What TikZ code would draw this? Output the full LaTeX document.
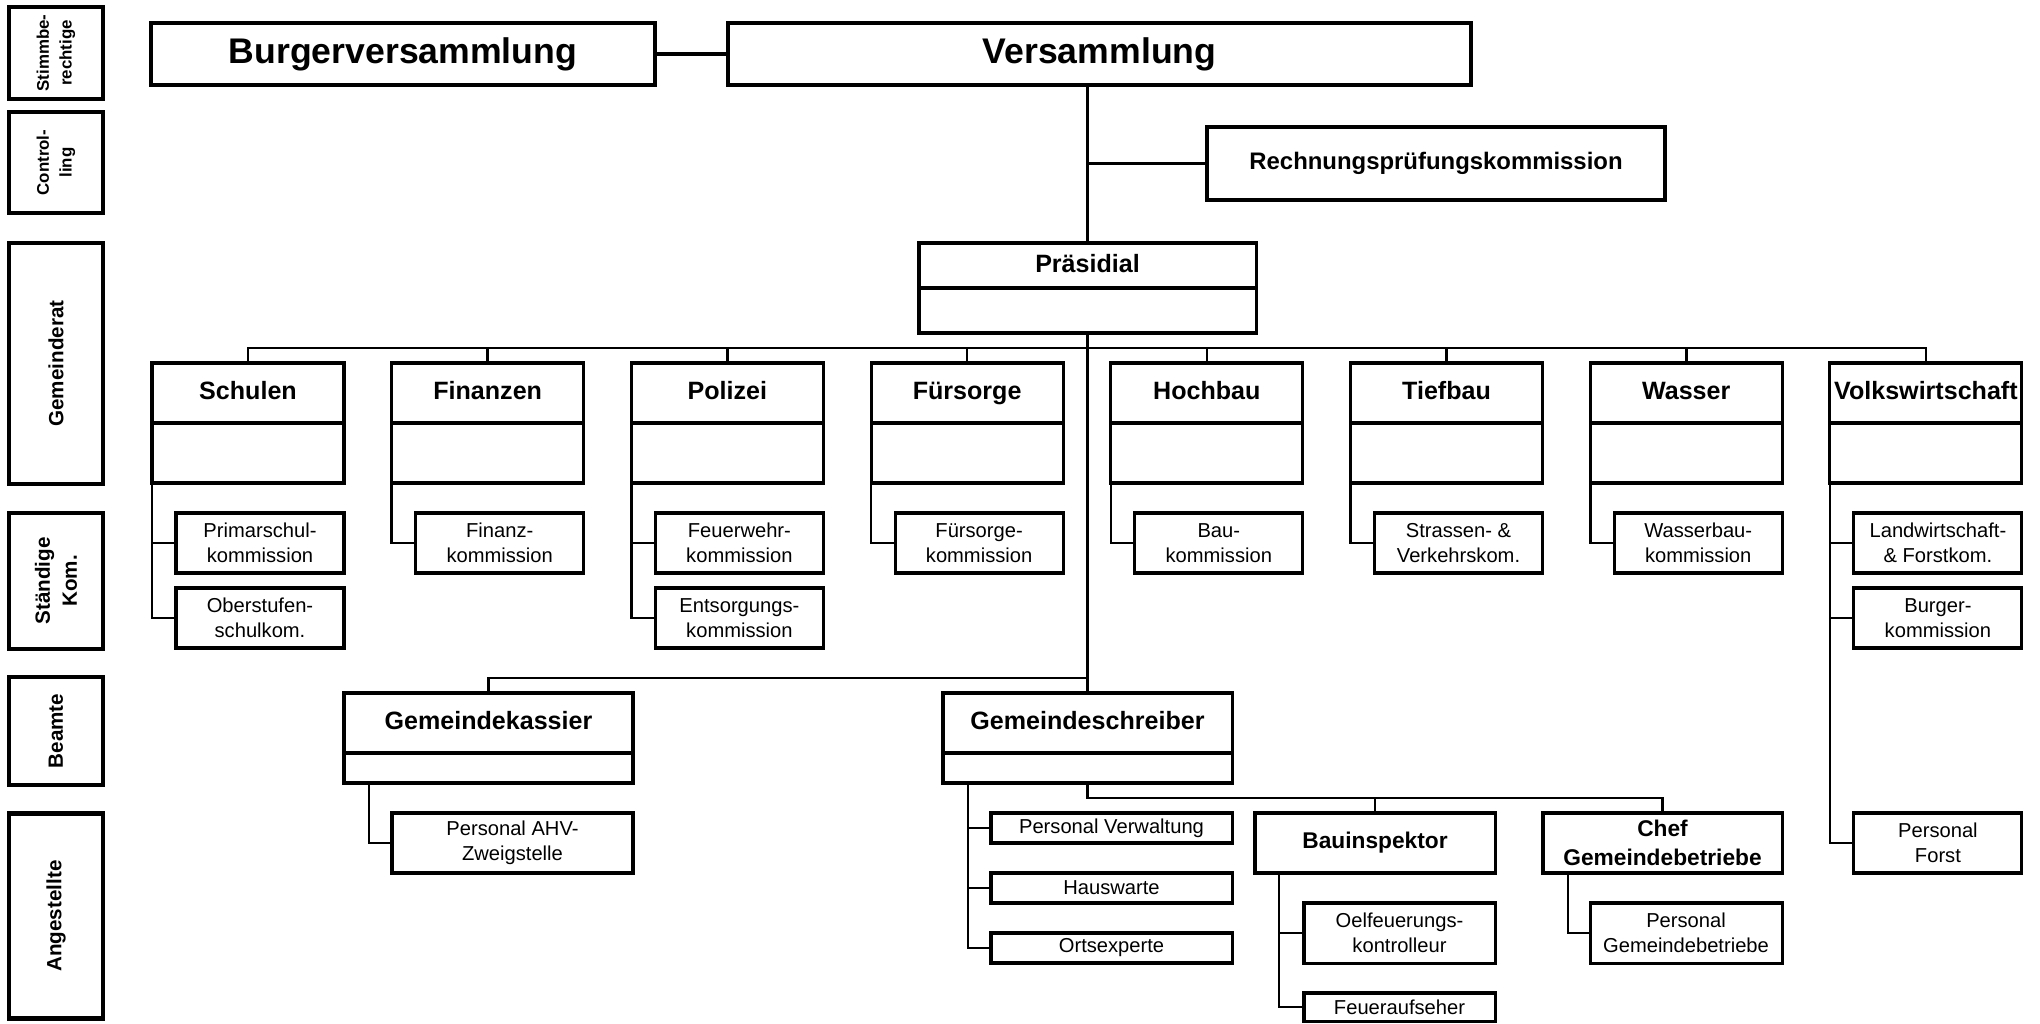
\documentclass[tikz,border=0pt]{standalone}
\usepackage{fontspec}
\setmainfont{Liberation Sans}
\usetikzlibrary{positioning}

\newcommand{\fTop}{\fontsize{15.2}{18}\selectfont\bfseries}
\newcommand{\fRpk}{\fontsize{10.2}{12}\selectfont\bfseries}
\newcommand{\fDept}{\fontsize{10.7}{12.8}\selectfont\bfseries}
\newcommand{\fStaff}{\fontsize{9.7}{12.5}\selectfont\bfseries}
\newcommand{\fSub}{\fontsize{8.6}{10.7}\selectfont}
\newcommand{\fSide}{\fontsize{8.8}{11.5}\selectfont\bfseries}
\newcommand{\fSideSmall}{\fontsize{7.2}{9.7}\selectfont\bfseries}

\begin{document}
\begin{tikzpicture}[x = 0.015cm, y = -0.015cm,
	sidebox/.style = {draw, line width = 1.9pt, rotate = 90, minimum height = 1.41cm, inner sep = 0pt, align = center, font = \fSide},
	topbox/.style = {draw, line width = 1.8pt, outer sep = 0pt, minimum height = 0.93cm, inner sep = 0pt, font = \fTop},
	plainbox/.style = {draw, line width = 1.3pt, outer sep = 0pt, minimum width = 2.88cm, minimum height = 0.9cm, inner sep = 0pt},
	dept/.style = {plainbox, text height = 1.5ex, text depth = 0.4ex, font = \fDept},
	deptlow/.style = {plainbox},
	subbox/.style = {plainbox, minimum width = 2.52cm, align = center, font = \fSub},
	link/.style = {line width = 1.1pt}]

	\useasboundingbox (0, 0) rectangle (2040, 1023);

	% Side labels

	\node [sidebox, minimum width = 1.38cm, font = \fSideSmall] (stimm) at (56, 53) {Stimmbe-\\rechtige};
	\node [sidebox, minimum width = 1.515cm, font = \fSideSmall] (contr) at (56, 162.5) {Control-\\ling};
	\node [sidebox, minimum width = 3.615cm] (gemrat) at (56, 363.5) {Gemeinderat};
	\node [sidebox, minimum width = 2.04cm] (staend) at (56, 581) {Ständige\\Kom.};
	\node [sidebox, minimum width = 1.62cm] (beamte) at (56, 731) {Beamte};
	\node [sidebox, minimum width = 3.075cm] (angest) at (56, 916) {Angestellte};

	% Assemblies

	\node [topbox, minimum width = 7.56cm] (burger) at (403, 54) {Burgerversammlung};
	\node [topbox, minimum width = 11.145cm] (versamml) at (1099.5, 54) {Versammlung};
	\node [topbox, minimum width = 6.87cm, minimum height = 1.095cm, font = \fRpk] (rpk) at (1436, 163.5) {Rechnungsprüfungskommission};

	\draw [line width = 1.7pt] (burger) -- (versamml);

	% Praesidial

	\node [dept, minimum width = 5.055cm, minimum height = 0.675cm] (praes) at (1087.5, 265.5) {Präsidial};
	\node [deptlow, minimum width = 5.055cm, minimum height = 0.675cm, below = 0pt of praes] (praes-b) {};

	\draw [link] (praes.north |- versamml.south) -- (praes.north);
	\draw [link] (rpk.west) -- (rpk.west -| praes.north);

	% Departments

	\foreach \name/\title [count = \i from 0] in {schulen/Schulen, finanzen/Finanzen, polizei/Polizei, fuersorge/Fürsorge, hochbau/Hochbau, tiefbau/Tiefbau, wasser/Wasser, volk/Volkswirtschaft}
	{
		\node [dept] (\name) at (248 + 239.7*\i, 393) {\title};
		\node [deptlow, below = 0pt of \name] (\name-b) {};
	}

	\draw [link] (schulen.north) -- ++(0, -15) -| (volk.north);
	\foreach \name in {finanzen, polizei, fuersorge, hochbau, tiefbau, wasser}
		\draw [link] (\name.north) -- ++(0, -15);

	% Standing commissions

	\node [subbox] (prim) at (260, 543) {Primarschul-\\kommission};
	\node [subbox] (oberst) at (260, 618) {Oberstufen-\\schulkom.};
	\node [subbox] (finkom) at (499.7, 543) {Finanz-\\kommission};
	\node [subbox] (feuerw) at (739.4, 543) {Feuerwehr-\\kommission};
	\node [subbox] (entsorg) at (739.4, 618) {Entsorgungs-\\kommission};
	\node [subbox] (fuerskom) at (979.1, 543) {Fürsorge-\\kommission};
	\node [subbox] (baukom) at (1218.8, 543) {Bau-\\kommission};
	\node [subbox] (strassen) at (1458.5, 543) {Strassen- \&\\Verkehrskom.};
	\node [subbox] (wasserbau) at (1698.2, 543) {Wasserbau-\\kommission};
	\node [subbox] (landw) at (1937.9, 543) {Landwirtschaft-\\\& Forstkom.};
	\node [subbox] (burgerkom) at (1937.9, 618) {Burger-\\kommission};
	\node [subbox] (persforst) at (1937.9, 843) {Personal\\Forst};

	\draw [link] (schulen-b.south west) |- (oberst.west);
	\draw [link] (prim.west) -- ++(-24, 0);
	\draw [link] (finanzen-b.south west) |- (finkom.west);
	\draw [link] (polizei-b.south west) |- (entsorg.west);
	\draw [link] (feuerw.west) -- ++(-24, 0);
	\draw [link] (fuersorge-b.south west) |- (fuerskom.west);
	\draw [link] (hochbau-b.south west) |- (baukom.west);
	\draw [link] (tiefbau-b.south west) |- (strassen.west);
	\draw [link] (wasser-b.south west) |- (wasserbau.west);
	\draw [link] (volk-b.south west) |- (persforst.west);
	\draw [link] (landw.west) -- ++(-24, 0);
	\draw [link] (burgerkom.west) -- ++(-24, 0);

	% Officials

	\node [dept, minimum width = 4.335cm] (kassier) at (488.5, 723) {Gemeindekassier};
	\node [deptlow, minimum width = 4.335cm, minimum height = 0.45cm, below = 0pt of kassier] (kassier-b) {};
	\node [dept, minimum width = 4.335cm] (schreiber) at (1087.5, 723) {Gemeindeschreiber};
	\node [deptlow, minimum width = 4.335cm, minimum height = 0.45cm, below = 0pt of schreiber] (schreiber-b) {};

	\draw [link] (praes-b.south) -- (schreiber.north);
	\draw [link] (kassier.north) -- ++(0, -15) -| (schreiber.north);

	% Employees

	\node [subbox, minimum width = 3.615cm] (ahv) at (512.5, 843) {Personal AHV-\\Zweigstelle};
	\node [subbox, minimum width = 3.615cm, minimum height = 0.45cm] (persverw) at (1111.5, 828) {Personal Verwaltung};
	\node [subbox, minimum width = 3.615cm, minimum height = 0.45cm] (hauswart) at (1111.5, 888) {Hauswarte};
	\node [subbox, minimum width = 3.615cm, minimum height = 0.45cm] (ortsexp) at (1111.5, 948) {Ortsexperte};
	\node [plainbox, minimum width = 3.6cm, font = \fStaff] (bauinsp) at (1375, 843) {Bauinspektor};
	\node [plainbox, minimum width = 3.585cm, font = \fStaff, align = center] (chef) at (1662.5, 843) {Chef\\Gemeindebetriebe};
	\node [subbox, minimum width = 2.865cm] (oelf) at (1399.5, 933) {Oelfeuerungs-\\kontrolleur};
	\node [subbox, minimum width = 2.865cm, minimum height = 0.42cm] (feuerauf) at (1399.5, 1007) {Feueraufseher};
	\node [subbox, minimum width = 2.88cm] (persgb) at (1686, 933) {Personal\\Gemeindebetriebe};

	\draw [link] ([xshift = 0.375cm] kassier-b.south west) |- (ahv.west);
	\draw [link] ([xshift = 0.375cm] schreiber-b.south west) |- (ortsexp.west);
	\draw [link] (persverw.west) -- ++(-23, 0);
	\draw [link] (hauswart.west) -- ++(-23, 0);
	\draw [link] (schreiber-b.south) -- ++(0, 15) -| (chef.north);
	\draw [link] (bauinsp.north) -- ++(0, -15);
	\draw [link] ([xshift = 0.36cm] bauinsp.south west) |- (feuerauf.west);
	\draw [link] (oelf.west) -- ++(-25, 0);
	\draw [link] ([xshift = 0.375cm] chef.south west) |- (persgb.west);

\end{tikzpicture}
\end{document}
